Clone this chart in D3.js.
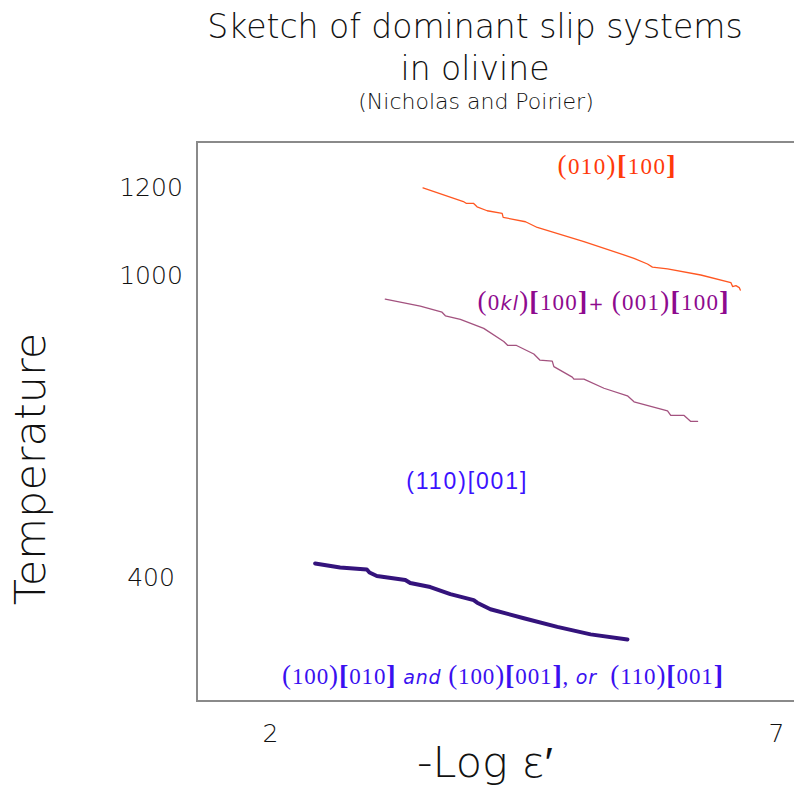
<!DOCTYPE html>
<html>
<head>
<meta charset="utf-8">
<script src="https://cdn.jsdelivr.net/npm/d3@7"></script>
<style>
  body { margin: 0; background: #fff; }
  svg { display: block; }
  text { white-space: pre; }
</style>
</head>
<body>
<div id="chart"></div>
<script>
var width = 794, height = 788;

// tick labels
var xTicks = [2, 7];
var yTicks = [400, 1000, 1200];

// (010)[100] curve, -log strain rate vs temperature
var orangeLogE = [3.512, 3.911, 3.938, 4.010, 4.046, 4.146, 4.294, 4.304, 4.525, 4.641, 5.102,
                  5.597, 5.730, 5.779, 5.928, 6.257, 6.554, 6.571, 6.604, 6.637, 6.647];
var orangeTemp = [1198, 1167, 1163, 1163, 1155, 1146, 1140, 1131, 1121, 1108, 1076,
                  1038, 1025, 1018, 1014, 1000, 985, 977, 979, 975, 970];

// (0kl)[100] + (001)[100] curve
var purpleLogE = [3.139, 3.485, 3.700, 3.733, 3.881, 4.112, 4.310, 4.350, 4.436, 4.607, 4.666, 4.789,
                  4.805, 4.987, 5.003, 5.102, 5.300, 5.532, 5.597, 5.928, 5.960, 6.092, 6.158, 6.225];
var purpleTemp = [952, 938, 926, 919, 912, 894, 868, 860, 860, 843, 831, 829,
                  818, 797, 793, 793, 775, 760, 748, 730, 721, 721, 709, 709];

// low temperature curve
var darkLogE = [2.446, 2.693, 2.957, 2.983, 3.056, 3.337, 3.386, 3.584, 3.782, 4.013, 4.047,
                4.178, 4.508, 4.839, 5.168, 5.532];
var darkTemp = [427, 419, 415, 409, 402, 394, 388, 380, 366, 354, 349,
                336, 318, 301, 286, 276];

// slip system labels (anchored in data units)
var labelText = ["(010)[100]", "(0kl)[100]+ (001)[100]", "(110)[001]", "(100)[010] and (100)[001], or  (110)[001]"];
var labelLogE = [4.842, 4.050, 3.347, 2.119];
var labelTemp = [1230, 930, 575, 187];

var svg = d3.select("#chart")
  .append("svg")
    .attr("width", width)
    .attr("height", height);

// the sketch uses uneven spacing on the temperature axis
var x = d3.scaleLinear()
  .domain([2, 7])
  .range([270, 776]);
var y = d3.scaleLinear()
  .domain([400, 1000, 1200])
  .range([577, 275, 187]);

var sans = "'DejaVu Sans', sans-serif";
var serif = "'Liberation Serif', 'Times New Roman', serif";

// frame (right side runs off the page)
svg.append("path")
  .attr("d", "M800,142H197V701H800")
  .attr("fill", "none")
  .attr("stroke", "#8a8a8a")
  .attr("stroke-width", 2);

// axes, labels only
var xAxis = svg.append("g")
  .attr("transform", "translate(0,733)")
  .call(d3.axisBottom(x).tickValues(xTicks).tickSize(0).tickPadding(0).tickFormat(d3.format("d")));
xAxis.select(".domain").remove();
xAxis.selectAll("text")
  .attr("y", 0)
  .attr("dy", "0.35em")
  .attr("font-family", sans)
  .attr("font-weight", 300)
  .attr("font-size", 25)
  .attr("fill", "#111");

var yAxis = svg.append("g")
  .attr("transform", "translate(151,0)")
  .call(d3.axisLeft(y).tickValues(yTicks).tickSize(0).tickPadding(0).tickFormat(d3.format("d")));
yAxis.select(".domain").remove();
yAxis.selectAll("text")
  .attr("x", 0)
  .attr("text-anchor", "middle")
  .attr("font-family", sans)
  .attr("font-weight", 300)
  .attr("font-size", 25)
  .attr("fill", "#111");

// curves
var line = d3.line()
  .x(function(d) { return x(d[0]); })
  .y(function(d) { return y(d[1]); });

var curves = [
  {logE: orangeLogE, temp: orangeTemp, color: "#ff5722", w: 1.3},
  {logE: purpleLogE, temp: purpleTemp, color: "#a3527f", w: 1.3},
  {logE: darkLogE, temp: darkTemp, color: "#34137c", w: 4}
];

svg.append("g")
  .selectAll("path")
  .data(curves)
  .enter().append("path")
    .attr("d", function(c) { return line(d3.zip(c.logE, c.temp)); })
    .attr("fill", "none")
    .attr("stroke", function(c) { return c.color; })
    .attr("stroke-width", function(c) { return c.w; })
    .attr("stroke-linejoin", "round")
    .attr("stroke-linecap", "round");

// slip system labels
var labelColor = ["#ff3a0a", "#8e0a8e", "#3b12ff", "#3a10f0"];
var labelWidth = [118, 251, 120, 441];

function styleToken(ts, tok, plain) {
  if (plain) {
    ts.attr("font-family", "'Liberation Sans', Arial, sans-serif").attr("font-size", 23);
  } else if (tok == "(" || tok == ")") {
    ts.attr("font-family", serif).attr("font-size", 27);
  } else if (tok == "[" || tok == "]") {
    ts.attr("font-family", serif).attr("font-size", 28).attr("font-weight", "bold");
  } else if (/^\d+$/.test(tok) || tok == ",") {
    ts.attr("font-family", serif).attr("font-size", 23);
  } else if (/^[a-z]+$/.test(tok)) {
    ts.attr("font-family", sans).attr("font-size", 19).attr("font-style", "italic");
  } else {
    ts.attr("font-family", sans).attr("font-size", 18);
  }
}

labelText.forEach(function(str, i) {
  var t = svg.append("text")
    .attr("x", x(labelLogE[i]))
    .attr("y", y(labelTemp[i]))
    .attr("fill", labelColor[i])
    .attr("textLength", labelWidth[i])
    .attr("lengthAdjust", "spacing");
  var toks = str.match(/\(|\)|\[|\]|\d+|[a-z]+|[+,]|\s+/g);
  toks.forEach(function(tok) {
    var ts = t.append("tspan").text(tok);
    styleToken(ts, tok, i == 2);
  });
});

// titles
var title = svg.append("g")
  .attr("font-family", sans)
  .attr("font-weight", 300)
  .attr("fill", "#111")
  .attr("text-anchor", "middle");
title.append("text").attr("x", 475).attr("y", 38).attr("font-size", 33).text("Sketch of dominant slip systems");
title.append("text").attr("x", 475).attr("y", 80).attr("font-size", 33).text("in olivine");
title.append("text").attr("x", 476).attr("y", 109).attr("font-size", 22).text("(Nicholas and Poirier)");

svg.append("text")
  .attr("x", 485)
  .attr("y", 777)
  .attr("text-anchor", "middle")
  .attr("font-family", sans)
  .attr("font-weight", 300)
  .attr("font-size", 43)
  .attr("fill", "#111")
  .text("-Log \u03b5\u2032");

svg.append("text")
  .attr("transform", "translate(45,469) rotate(-90)")
  .attr("text-anchor", "middle")
  .attr("font-family", sans)
  .attr("font-weight", 300)
  .attr("font-size", 43)
  .attr("fill", "#111")
  .text("Temperature");
</script>
</body>
</html>
